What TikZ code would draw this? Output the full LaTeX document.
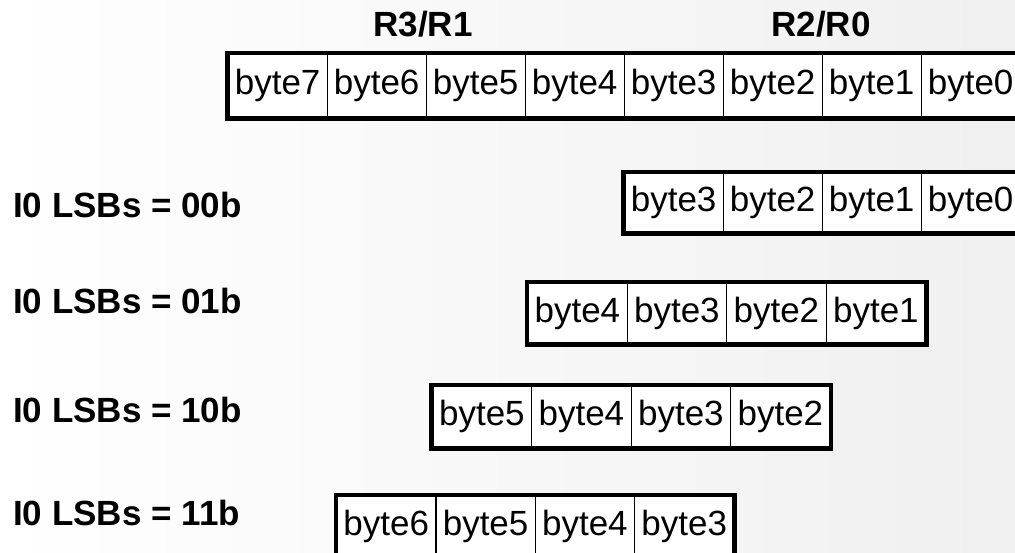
\documentclass[tikz,border=0pt]{standalone}
\usepackage{fontspec}
\setmainfont{Liberation Sans}
\begin{document}
\begin{tikzpicture}[x=1pt,y=-1pt,
  cell/.style={draw=black, line width=1.3pt, fill=white, inner sep=0pt,
    anchor=north west, font=\fontsize{35}{41}\selectfont},
  lbl/.style={font=\bfseries\fontsize{35}{42}\selectfont, inner sep=0pt, text=black},
  outer/.style={draw=black, line width=4.5pt}]
\useasboundingbox (0,0) rectangle (1015,553);
\fill[left color=white, right color=gray!12] (0,0) rectangle (1015,553);
\clip (0,0) rectangle (1015,553);
% register row
\foreach \b [count=\k from 0] in {7,6,5,4,3,2,1,0}
  \node[cell, minimum width=99pt, minimum height=64pt] (a\b) at ({227.5+99*\k},53) {byte\b};
\draw[outer] (a7.north west) rectangle (a0.south east);
% 00b
\foreach \b [count=\k from 0] in {3,2,1,0}
  \node[cell, minimum width=99pt, minimum height=60pt] (b\b) at ({623.5+99*\k},172) {byte\b};
\draw[outer] (b3.north west) rectangle (b0.south east);
% 01b
\foreach \b [count=\k from 0] in {4,3,2,1}
  \node[cell, minimum width=99.5pt, minimum height=61pt] (c\b) at ({527+99.5*\k},282) {byte\b};
\draw[outer] (c4.north west) rectangle (c1.south east);
% 10b
\foreach \b [count=\k from 0] in {5,4,3,2}
  \node[cell, minimum width=99.5pt, minimum height=62pt] (d\b) at ({431.5+99.5*\k},385) {byte\b};
\draw[outer] (d5.north west) rectangle (d2.south east);
% 11b
\foreach \b [count=\k from 0] in {6,5,4,3}
  \node[cell, minimum width=99.3pt, minimum height=62pt] (e\b) at ({336+99.3*\k},495) {byte\b};
\draw[outer] (e6.north west) rectangle (e3.south east);
% labels
\node[lbl] (rhi) at (423,24) {R3/R1};
\node[lbl] (rlo) at (821,24) {R2/R0};
\node[lbl, anchor=west] (l0) at (13,205) {I0 LSBs = 00b};
\node[lbl, anchor=west] (l1) at (13,301) {I0 LSBs = 01b};
\node[lbl, anchor=west] (l2) at (13,410) {I0 LSBs = 10b};
\node[lbl, anchor=west] (l3) at (13,513) {I0 LSBs = 11b};
\end{tikzpicture}
\end{document}
